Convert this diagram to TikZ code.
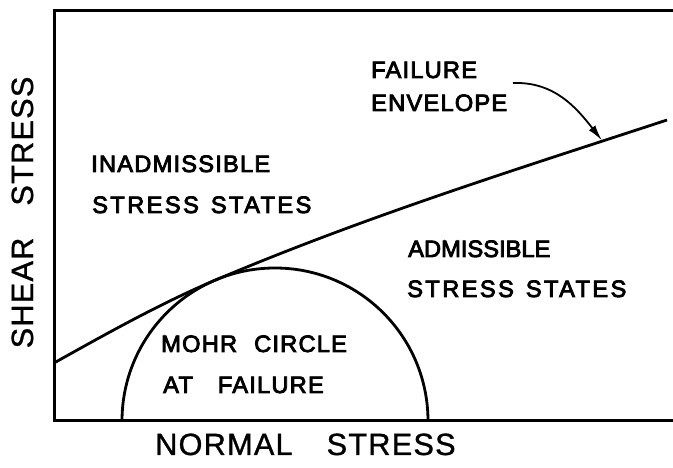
\documentclass[tikz,border=0pt]{standalone}
\usepackage{fontspec}
\setmainfont{Liberation Sans}
\usetikzlibrary{arrows.meta}
\begin{document}
\begin{tikzpicture}[x=1pt,y=1pt,
  lbl/.style={anchor=base west,inner sep=0pt,font=\fontsize{23.7}{28}\selectfont\addfontfeature{LetterSpace=5,FakeBold=3.5}},
  wide/.style={font=\fontsize{23.7}{28}\selectfont\addfontfeature{LetterSpace=10,FakeBold=3.5}},
  tight/.style={font=\fontsize{23.7}{28}\selectfont\addfontfeature{LetterSpace=0,FakeBold=3.5}},
  axlbl/.style={anchor=base west,inner sep=0pt,font=\fontsize{30.7}{36}\selectfont\addfontfeature{LetterSpace=4,FakeBold=1}},
  frame/.style={line width=3pt},
  curveline/.style={line width=2.8pt},
  pointer/.style={line width=1.8pt,-{Latex[length=16pt,width=8pt]}},
]
\useasboundingbox (0,0) rectangle (673,468);
% frame (axes)
\coordinate (tr) at (675,457);
\coordinate (tl) at (54,457);
\coordinate (bl) at (54,47);
\coordinate (br) at (675,47);
\draw[frame] (tr) -- (tl) -- (bl) -- (br);
% Mohr circle
\coordinate (cc) at (275,47);
\coordinate (cr) at (428,47);
\draw[curveline] (cr) arc[start angle=0,end angle=180,radius=153];
% failure envelope
\coordinate (eA) at (54,105);
\coordinate (eT) at (215.2,187.8);
\coordinate (eB) at (667,348);
\draw[curveline] (eA) .. controls (108,135.2) and (161.2,164.9) .. (eT)
  .. controls (365.2,251.4) and (517,298.8) .. (eB);
% labels
\node[lbl] (fail1) at (371,390) {FAILURE};
\node[lbl] (fail2) at (371,357) {ENVELOPE};
\node[lbl] (inad1) at (91,296) {INADMISSIBLE};
\node[lbl,wide] (inad2) at (92,255) {STRESS\hspace{12pt}STATES};
\node[lbl,tight] (adm1) at (408,211) {ADMISSIBLE};
\node[lbl,wide] (adm2) at (407,171) {STRESS\hspace{12pt}STATES};
\node[lbl] (mohr1) at (161,116) {MOHR\hspace{17pt}CIRCLE};
\node[lbl] (mohr2) at (163,75) {AT\hspace{25pt}FAILURE};
\node[axlbl] (normal) at (155,13) {NORMAL\hspace{34pt}STRESS};
\node[axlbl,rotate=90] (shear) at (33,119.5) {SHEAR\hspace{32pt}STRESS};
% pointer
\coordinate (ps) at (513,385);
\coordinate (pt) at (602,327.5);
\draw[pointer] (ps) to[out=2,in=128] (pt);
\end{tikzpicture}
\end{document}
